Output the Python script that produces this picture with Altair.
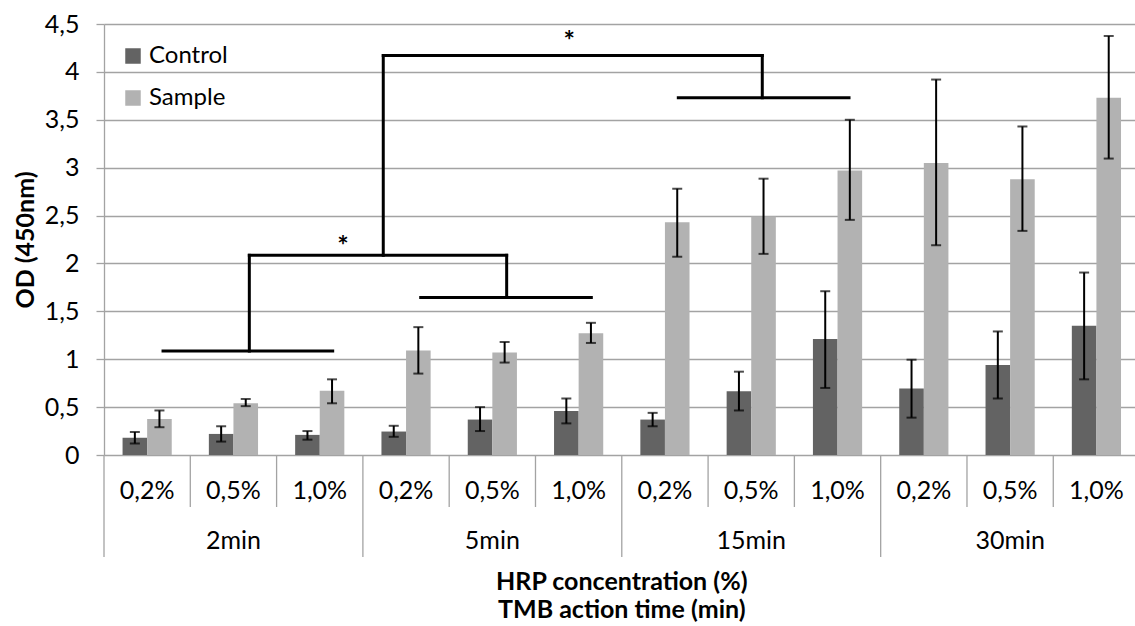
import altair as alt
import pandas as pd

# ---------------- data ----------------
concentrations = ["0,2%", "0,5%", "1,0%"]
times = ["2min", "5min", "15min", "30min"]
series = ["Control", "Sample"]

control = [0.18, 0.22, 0.21, 0.245, 0.37, 0.46, 0.37, 0.665, 1.21, 0.695, 0.94, 1.35]
control_lo = [0.12, 0.14, 0.16, 0.19, 0.25, 0.33, 0.30, 0.465, 0.70, 0.39, 0.59, 0.79]
control_hi = [0.24, 0.30, 0.25, 0.305, 0.50, 0.59, 0.44, 0.87, 1.71, 0.995, 1.29, 1.905]

sample = [0.375, 0.54, 0.67, 1.09, 1.07, 1.27, 2.43, 2.49, 2.97, 3.05, 2.88, 3.73]
sample_lo = [0.29, 0.51, 0.54, 0.85, 0.965, 1.17, 2.07, 2.10, 2.455, 2.19, 2.34, 3.095]
sample_hi = [0.465, 0.585, 0.79, 1.335, 1.18, 1.38, 2.78, 2.885, 3.50, 3.92, 3.43, 4.375]

# significance brackets, in (category index, OD) units
bracket_x = [0.684, 1.684, 3.670, 4.666, 1.684, 3.236, 6.655, 7.628, 3.236]
bracket_x2 = [2.650, 1.684, 5.647, 4.666, 4.666, 3.236, 8.633, 7.628, 7.628]
bracket_y = [1.085, 1.085, 1.645, 1.645, 2.085, 2.085, 3.730, 3.730, 4.170]
bracket_y2 = [1.085, 2.085, 1.645, 2.085, 2.085, 4.170, 3.730, 4.170, 4.170]
star_x = [2.769, 5.392]
star_y = [2.25, 4.39]
star_text = ["*", "*"]

y_ticks = [0, 0.5, 1, 1.5, 2, 2.5, 3, 3.5, 4, 4.5]

# ---------------- layout / style ----------------
FONT = "Lato"
GRID = "#a3a3a3"
COLORS = ["#636363", "#b2b2b2"]
W, H = 1031, 431
BAR_GAP = 0.215
BAR_W = 0.285
LABEL_SIZE = 25
TITLE_SIZE = 25

n = len(control)
rows = []
for i in range(n):
    for s, vals, lo, hi, off in [
        ("Control", control, control_lo, control_hi, BAR_GAP),
        ("Sample", sample, sample_lo, sample_hi, BAR_GAP + BAR_W),
    ]:
        rows.append({
            "series": s,
            "x0": i + off,
            "x1": i + off + BAR_W,
            "xc": i + off + BAR_W / 2,
            "value": vals[i],
            "base": 0,
            "lo": lo[i],
            "hi": hi[i],
        })
bar_df = pd.DataFrame(rows)

x_scale = alt.Scale(domain=[0, 11.947], nice=False, zero=False)
y_scale = alt.Scale(domain=[0, 4.5], nice=False, zero=True)

y_axis = alt.Axis(
    values=y_ticks,
    format="~g",
    labelExpr="replace(datum.label, '.', ',')",
    labelFont=FONT, labelFontSize=LABEL_SIZE, labelColor="black", labelPadding=17,
    tickSize=8, tickColor=GRID, tickWidth=1.3,
    domainColor=GRID, domainWidth=1.3,
    grid=True, gridColor=GRID, gridWidth=1.3,
    title="OD (450nm)", titleFont=FONT, titleFontSize=TITLE_SIZE,
    titleFontWeight="bold", titleColor="black", titlePadding=6,
)

base = alt.Chart(bar_df)

bars = base.mark_bar().encode(
    x=alt.X("x0:Q", scale=x_scale, axis=None),
    x2="x1:Q",
    y=alt.Y("value:Q", scale=y_scale, axis=y_axis),
    y2="base:Q",
    color=alt.Color(
        "series:N",
        scale=alt.Scale(domain=series, range=COLORS),
        legend=alt.Legend(
            title=None, orient="none", legendX=17, legendY=20,
            direction="vertical", symbolType="square", symbolSize=240,
            symbolStrokeWidth=0, labelFont=FONT, labelFontSize=24,
            labelColor="black", labelOffset=4, rowPadding=18, padding=0,
        ),
    ),
)

err_rule = base.mark_rule(color="black", strokeWidth=2).encode(
    x=alt.X("xc:Q", scale=x_scale), y=alt.Y("lo:Q", scale=y_scale), y2="hi:Q"
)
cap_lo = base.mark_tick(orient="horizontal", size=10, thickness=2, color="black").encode(
    x=alt.X("xc:Q", scale=x_scale), y=alt.Y("lo:Q", scale=y_scale)
)
cap_hi = base.mark_tick(orient="horizontal", size=10, thickness=2, color="black").encode(
    x=alt.X("xc:Q", scale=x_scale), y=alt.Y("hi:Q", scale=y_scale)
)

br_df = pd.DataFrame({"x": bracket_x, "x2": bracket_x2, "y": bracket_y, "y2": bracket_y2})
brackets = alt.Chart(br_df).mark_rule(color="black", strokeWidth=3, strokeCap="square").encode(
    x=alt.X("x:Q", scale=x_scale), x2="x2:Q",
    y=alt.Y("y:Q", scale=y_scale), y2="y2:Q",
)

star_df = pd.DataFrame({"x": star_x, "y": star_y, "t": star_text})
stars = alt.Chart(star_df).mark_text(
    font=FONT, fontSize=27, fontWeight="bold", color="black", baseline="middle", dy=7
).encode(
    x=alt.X("x:Q", scale=x_scale), y=alt.Y("y:Q", scale=y_scale), text="t:N"
)

# category axis (two levels) drawn below the plot
cat_df = pd.DataFrame({
    "pos": [i + 0.5 for i in range(n)],
    "label": [concentrations[i % 3] for i in range(n)],
})
grp_df = pd.DataFrame({
    "pos": [3 * g + 1.5 for g in range(len(times))],
    "label": times,
})
minor_df = pd.DataFrame({"pos": [i for i in range(1, n) if i % 3 != 0]})
major_df = pd.DataFrame({"pos": [3 * g for g in range(len(times))]})
title_df = pd.DataFrame({
    "pos": [n / 2, n / 2],
    "label": ["HRP concentration (%)", "TMB action time (min)"],
    "row": [0, 1],
})

minor_sep = alt.Chart(minor_df).mark_rule(color=GRID, strokeWidth=1.3).encode(
    x=alt.X("pos:Q", scale=x_scale), y=alt.value(H), y2=alt.value(H + 52)
)
major_sep = alt.Chart(major_df).mark_rule(color=GRID, strokeWidth=1.3).encode(
    x=alt.X("pos:Q", scale=x_scale), y=alt.value(H), y2=alt.value(H + 102)
)
cat_text = alt.Chart(cat_df).mark_text(font=FONT, fontSize=LABEL_SIZE, color="black", baseline="middle").encode(
    x=alt.X("pos:Q", scale=x_scale), y=alt.value(H + 36), text="label:N"
)
grp_text = alt.Chart(grp_df).mark_text(font=FONT, fontSize=LABEL_SIZE, color="black", baseline="middle").encode(
    x=alt.X("pos:Q", scale=x_scale), y=alt.value(H + 86), text="label:N"
)
t1 = alt.Chart(title_df).transform_filter("datum.row == 0").mark_text(
    font=FONT, fontSize=TITLE_SIZE, fontWeight="bold", color="black", baseline="middle"
).encode(x=alt.X("pos:Q", scale=x_scale), y=alt.value(H + 127), text="label:N")
t2 = alt.Chart(title_df).transform_filter("datum.row == 1").mark_text(
    font=FONT, fontSize=TITLE_SIZE, fontWeight="bold", color="black", baseline="middle"
).encode(x=alt.X("pos:Q", scale=x_scale), y=alt.value(H + 155), text="label:N")

chart = alt.layer(
    bars, err_rule, cap_lo, cap_hi, brackets, stars,
    minor_sep, major_sep, cat_text, grp_text, t1, t2,
).properties(
    width=W, height=H,
    autosize=alt.AutoSizeParams(type="none"),
    padding={"left": 104, "top": 24, "right": 0, "bottom": 171},
    background="white",
).configure_view(strokeWidth=0)

chart.save("out.html", embed_options={"renderer": "svg", "actions": False})
